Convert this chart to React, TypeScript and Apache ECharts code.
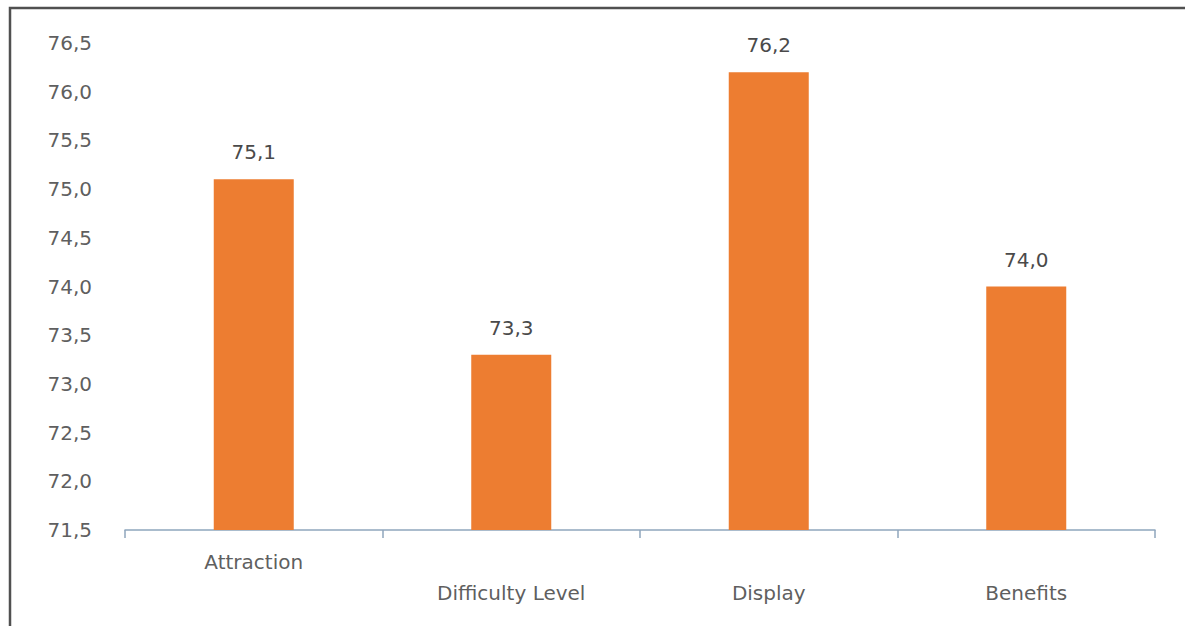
import React, { useEffect, useRef } from "react";
import * as echarts from "echarts";

const categories = ["Attraction", "Difficulty Level", "Display", "Benefits"];
const values = [75.1, 73.3, 76.2, 74.0];
const lowLabelCats = ["Difficulty Level", "Display", "Benefits"];

const fmt = (v: number) => v.toFixed(1).replace(".", ",");
const FONT = "DejaVu Sans";
const TXT = "#5f5f5f";

export default function App() {
  const ref = useRef<HTMLDivElement>(null);
  useEffect(() => {
    document.body.style.margin = "0";
    const chart = echarts.init(ref.current!, null, { renderer: "svg" });
    chart.setOption({
      animation: false,
      backgroundColor: "#ffffff",
      textStyle: { fontFamily: FONT },
      grid: { left: 125, right: 30, top: 43, bottom: 96, containLabel: false },
      graphic: [
        {
          type: "polyline",
          shape: { points: [[10, 626], [10, 8], [1185, 8]] },
          style: { stroke: "#505050", lineWidth: 2.5, fill: "none" },
        },
      ],
      xAxis: {
        type: "category",
        data: categories,
        axisLine: { lineStyle: { color: "#8fa6bd", width: 1.5 } },
        axisTick: { show: true, length: 8, lineStyle: { color: "#8fa6bd", width: 1.5 } },
        axisLabel: {
          margin: 22,
          color: TXT,
          fontSize: 20,
          interval: 0,
          formatter: (v: string) =>
            lowLabelCats.includes(v) ? `{b|${v}}` : `{a|${v}}`,
          rich: {
            a: { fontSize: 20, color: TXT, fontFamily: FONT, padding: [0, 0, 0, 0] },
            b: { fontSize: 20, color: TXT, fontFamily: FONT, padding: [31, 0, 0, 0] },
          },
        },
      },
      yAxis: {
        type: "value",
        min: 71.5,
        max: 76.5,
        interval: 0.5,
        axisLine: { show: false },
        axisTick: { show: false },
        splitLine: { show: false },
        axisLabel: {
          margin: 33,
          color: TXT,
          fontSize: 20,
          formatter: (v: number) => fmt(v),
        },
      },
      series: [
        {
          type: "bar",
          data: values,
          barWidth: 80,
          itemStyle: { color: "#ED7D31" },
          label: {
            show: true,
            position: "top",
            distance: 17,
            color: "#4a4a4a",
            fontSize: 20,
            fontFamily: FONT,
            formatter: (p: any) => fmt(p.value),
          },
        },
      ],
    });
    return () => chart.dispose();
  }, []);
  return <div ref={ref} style={{ width: 1185, height: 626 }} />;
}
